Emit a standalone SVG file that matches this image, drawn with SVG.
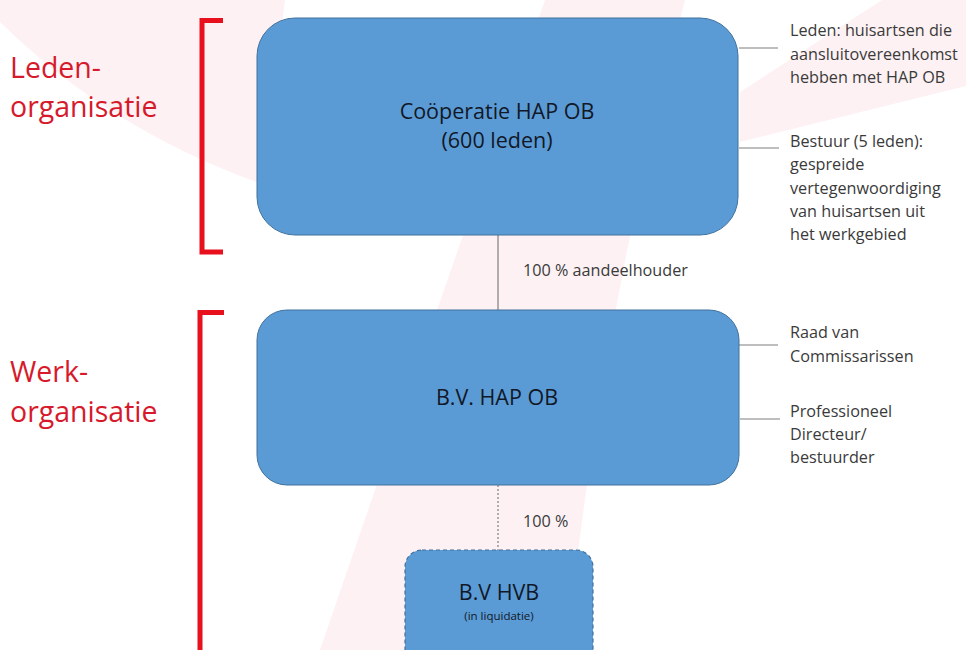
<svg xmlns="http://www.w3.org/2000/svg" width="966" height="650" viewBox="0 0 966 650">
<style>
.wm{fill:#fdf1f3;stroke:none}
.box{fill:#5b9bd5;stroke:#41719c;stroke-width:1}
.boxd{fill:#5b9bd5;stroke:#41719c;stroke-width:1.2;stroke-dasharray:4 3}
.bt{font-family:"Open Sans","Liberation Sans",sans-serif;fill:#111827;text-anchor:middle}
.red{font-family:"Open Sans","Liberation Sans",sans-serif;fill:#d61a2c;font-size:28.5px}
.ann{font-family:"Open Sans","Liberation Sans",sans-serif;fill:#3a3a3a;font-size:16.2px}
.br{fill:none;stroke:#e8101c;stroke-width:5;stroke-linejoin:miter}
.ln{stroke:#7f7f7f;stroke-width:1.2;fill:none}
.dot{stroke:#7f7f7f;stroke-width:1.2;stroke-dasharray:2 2;fill:none}
</style>
<rect width="966" height="650" fill="#ffffff"/>
<g id="watermark">
<path class="wm" d="M0,0 L285,0 L262,184 Q110,130 0,22 Z"/>
<path class="wm" d="M545,0 L685,0 Q605,300 566,650 L320,650 Q440,300 545,0 Z"/>
<path class="wm" d="M740,142 L740,92 L882,0 L966,0 L966,86 Z"/>
</g>
<g id="brackets">
<path class="br" d="M223,20.5 L202,20.5 L202,252 L223,252"/>
<path class="br" d="M224,312.5 L200,312.5 L200,652"/>
</g>
<g id="labels">
<text class="red" x="10" y="78">Leden-</text>
<text class="red" x="10" y="117">organisatie</text>
<text class="red" x="10" y="382">Werk-</text>
<text class="red" x="10" y="422">organisatie</text>
</g>
<g id="connectors">
<line class="ln" x1="498" y1="235" x2="498" y2="310"/>
<line class="dot" x1="498" y1="485" x2="498" y2="550"/>
<line class="ln" x1="739" y1="48" x2="778" y2="48"/>
<line class="ln" x1="739" y1="148" x2="779" y2="148"/>
<line class="ln" x1="739" y1="345" x2="778" y2="345"/>
<line class="ln" x1="740" y1="419" x2="780" y2="419"/>
<text class="ann" x="523" y="276">100 % aandeelhouder</text>
<text class="ann" x="523" y="527">100 %</text>
</g>
<g id="cooperatie">
<rect class="box" x="257" y="18" width="481" height="217" rx="38" ry="38"/>
<text class="bt" x="497" y="119" font-size="21.5">Coöperatie HAP OB</text>
<text class="bt" x="497" y="148" font-size="21.5">(600 leden)</text>
</g>
<g id="bv-hap-ob">
<rect class="box" x="257" y="310" width="482" height="175" rx="30" ry="30"/>
<text class="bt" x="497" y="405" font-size="21.5">B.V. HAP OB</text>
</g>
<g id="bv-hvb">
<rect class="boxd" x="405" y="550" width="188" height="120" rx="17" ry="17"/>
<text class="bt" x="499" y="600" font-size="21.5">B.V HVB</text>
<text class="bt" x="499" y="620" font-size="11.5">(in liquidatie)</text>
</g>
<g id="annotations">
<text class="ann" x="790" y="36">Leden: huisartsen die</text>
<text class="ann" x="790" y="60">aansluitovereenkomst</text>
<text class="ann" x="790" y="83">hebben met HAP OB</text>
<text class="ann" x="790" y="147">Bestuur (5 leden):</text>
<text class="ann" x="790" y="170">gespreide</text>
<text class="ann" x="790" y="194">vertegenwoordiging</text>
<text class="ann" x="790" y="217">van huisartsen uit</text>
<text class="ann" x="790" y="240">het werkgebied</text>
<text class="ann" x="790" y="338">Raad van</text>
<text class="ann" x="790" y="362">Commissarissen</text>
<text class="ann" x="790" y="417">Professioneel</text>
<text class="ann" x="790" y="440">Directeur/</text>
<text class="ann" x="790" y="463">bestuurder</text>
</g>
</svg>
